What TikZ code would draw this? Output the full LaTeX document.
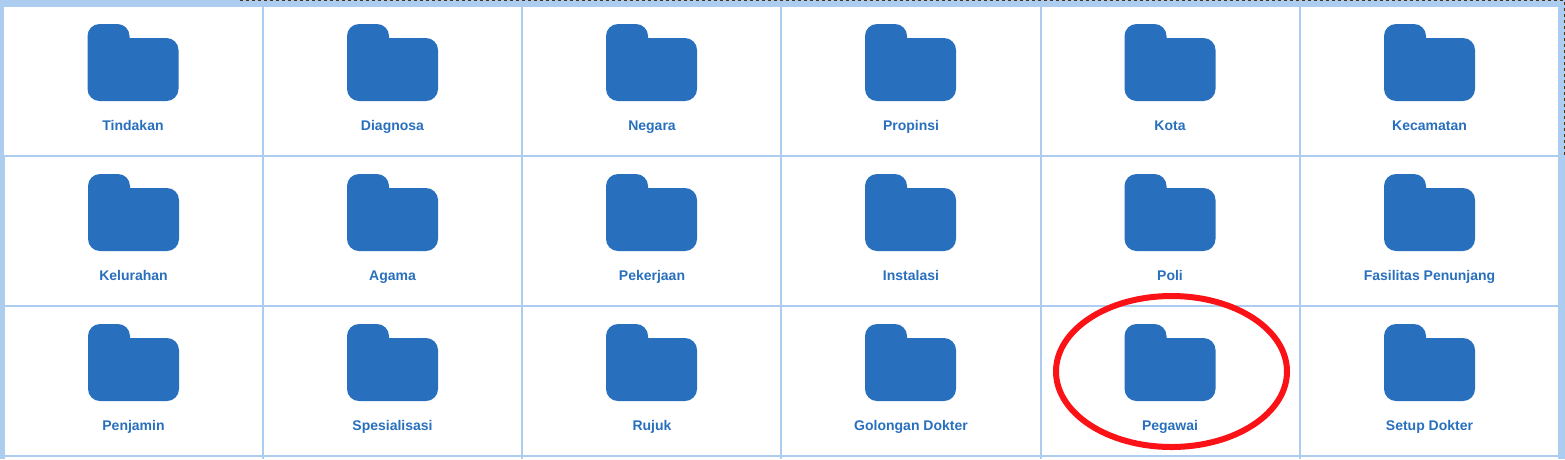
\documentclass[tikz,border=0pt]{standalone}
\usepackage{fontspec}
\setmainfont{Liberation Sans}
\definecolor{gridblue}{HTML}{ADCDF0}
\definecolor{folderblue}{HTML}{2870BD}
\definecolor{markred}{HTML}{FB1216}
\definecolor{dashbrown}{HTML}{4A3520}
\tikzset{
  cell/.style={fill=white,draw=none},
  itemlabel/.style={text=folderblue,font=\fontsize{14}{16}\selectfont\bfseries,inner sep=0pt,anchor=base},
  folder/.pic={
    \fill[folderblue] (0,12) arc[start angle=180,end angle=270,radius=12] -- (30,0)
      arc[start angle=270,end angle=360,radius=12] -- (42,14) -- (79,14)
      arc[start angle=270,end angle=360,radius=12] -- (91,65)
      arc[start angle=0,end angle=90,radius=12] -- (12,77)
      arc[start angle=90,end angle=180,radius=12] -- cycle;
  }
}

\begin{document}
\begin{tikzpicture}[x=1pt,y=-1pt]
\useasboundingbox (0,0) rectangle (1565,459);
\fill[gridblue] (0,0) rectangle (1565,459); % The page behind the table.

% The white cells, the blue lines are what is left between them.
\fill[cell] (4,7) rectangle (262,155);
\fill[cell] (5,157) rectangle (262,305);
\fill[cell] (5,307) rectangle (262,455);
\fill[cell] (5,457) rectangle (262,459);
\foreach \l/\r in {264/521,523/780,782/1040,1042/1299,1301/1558}{
  \fill[cell] (\l,7) rectangle (\r,155);
  \fill[cell] (\l,157) rectangle (\r,305);
  \fill[cell] (\l,307) rectangle (\r,455);
  \fill[cell] (\l,457) rectangle (\r,459);
}

% The folders.
\pic at (87.5,24) {folder};
\pic at (88,174) {folder};
\pic at (88,324) {folder};
\foreach \x in {347,606,865,1124.5,1384}{
  \foreach \y in {24,174,324}{
    \pic at (\x,\y) {folder};
  }
}

% The labels.
\node[itemlabel] (tindakan) at (133,130) {Tindakan};
\node[itemlabel] (diagnosa) at (392.5,130) {Diagnosa};
\node[itemlabel] (negara) at (652,130) {Negara};
\node[itemlabel] (propinsi) at (911,130) {Propinsi};
\node[itemlabel] (kota) at (1170,130) {Kota};
\node[itemlabel] (kecamatan) at (1429.5,130) {Kecamatan};

\node[itemlabel] (kelurahan) at (133.5,280) {Kelurahan};
\node[itemlabel] (agama) at (392.5,280) {Agama};
\node[itemlabel] (pekerjaan) at (652,280) {Pekerjaan};
\node[itemlabel] (instalasi) at (911,280) {Instalasi};
\node[itemlabel] (poli) at (1170,280) {Poli};
\node[itemlabel] (fasilitas) at (1429.5,280) {Fasilitas Penunjang};

\node[itemlabel] (penjamin) at (133.5,430) {Penjamin};
\node[itemlabel] (spesialisasi) at (392.5,430) {Spesialisasi};
\node[itemlabel] (rujuk) at (652,430) {Rujuk};
\node[itemlabel] (golongan) at (911,430) {Golongan Dokter};
\node[itemlabel] (pegawai) at (1170,430) {Pegawai};
\node[itemlabel] (setup) at (1429.5,430) {Setup Dokter};

% The red mark and the dashed edge of the selection.
\draw[markred,line width=6pt] (1171.5,371.5) ellipse [x radius=115.5,y radius=75.5];
\draw[dashbrown,line width=1pt,dash pattern=on 3pt off 3pt] (240,0.5) -- (1564.5,0.5) -- (1564.5,156);
\end{tikzpicture}
\end{document}
